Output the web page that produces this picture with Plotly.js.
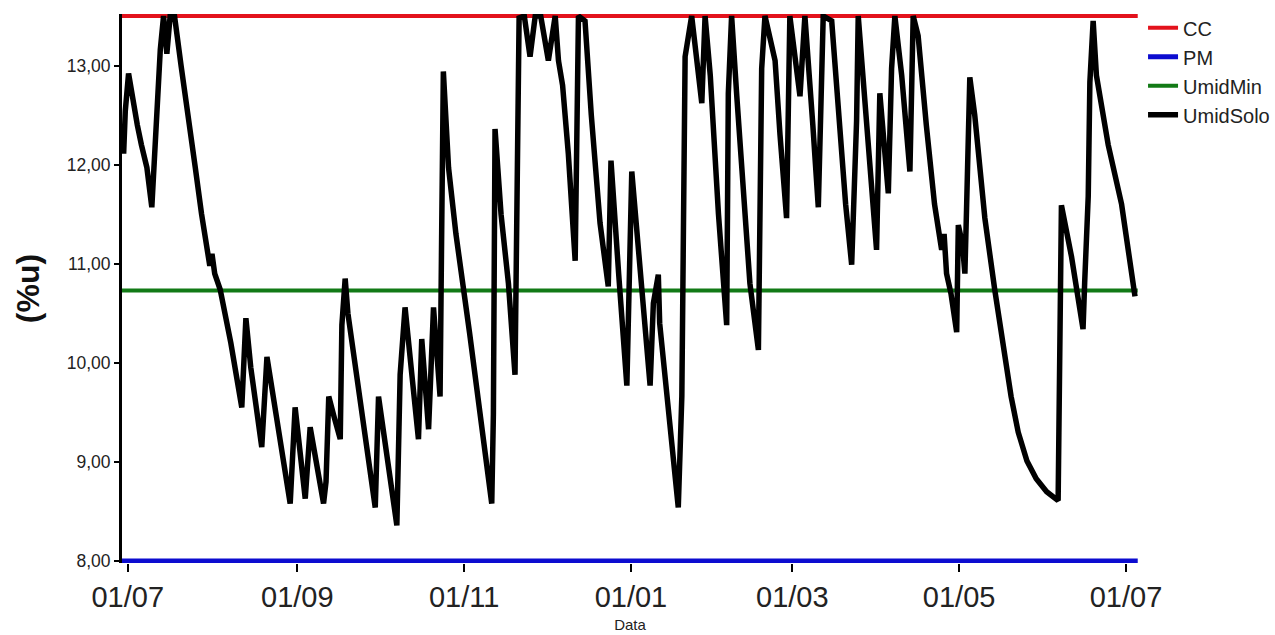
<!DOCTYPE html>
<html>
<head>
<meta charset="utf-8">
<script src="https://cdn.plot.ly/plotly-3.0.1.min.js"></script>
<style>
  html, body { margin: 0; padding: 0; background: #ffffff; }
  #chart { width: 1275px; height: 635px; }
</style>
</head>
<body>
<div id="chart"></div>
<script>
// ---- data ----
const seriesNames = ['CC', 'PM', 'UmidMin', 'UmidSolo'];
const startDay = '2010-07-01';            // day 0 of the series
const limitDays = [-2.1, 369.3];          // extent of the horizontal reference lines
const ccValue = 13.5;
const pmValue = 8.0;
const umidMinValue = 10.73;

// UmidSolo turning points: day offset from startDay and soil moisture (%u)
const soloDays = [
  -1.5, -0.9, 0.3, 1.5, 3.5, 5.0, 7.0, 8.8, 10.7, 11.9, 13.1, 14.3, 15.5, 17.1, 19.5, 21.6,
  24.7, 27.0, 28.9, 30.0, 30.8, 31.8, 33.8, 37.7, 41.7, 43.2, 45.0, 49.0, 50.9, 53.9, 57.6,
  59.4, 61.2, 64.9, 66.7, 71.6, 72.5, 73.5, 75.5, 77.7, 78.3, 79.5, 80.5, 85.0, 90.5, 91.7,
  95.0, 98.4, 99.6, 101.4, 104.0, 106.3, 107.5, 110.0, 111.8, 114.2, 114.8, 115.4, 117.3,
  120.0, 125.0, 129.0, 133.1, 133.7, 134.3, 136.5, 139.2, 141.6, 142.2, 143.1, 145.0, 147.1,
  149.0, 151.0, 153.8, 156.3, 157.5, 159.0, 161.1, 163.6, 164.8, 167.2, 169.5, 172.7, 175.7,
  176.7, 179.5, 182.5, 184.3, 187.0, 191.0, 192.2, 194.0, 194.5, 197.5, 201.3, 202.6, 203.1,
  203.8, 206.2, 209.9, 211.1, 213.0, 216.0, 219.0, 219.6, 220.8, 222.7, 225.3, 227.5, 230.6,
  231.2, 231.8, 233.0, 236.7, 238.5, 240.9, 242.1, 243.5, 245.8, 247.6, 248.5, 250.5, 252.5,
  254.3, 257.4, 260.0, 262.5, 264.7, 266.5, 267.1, 268.5, 271.0, 273.8, 275.0, 276.5, 278.1,
  279.3, 280.5, 283.0, 286.0, 287.2, 289.0, 292.0, 295.0, 297.6, 298.5, 299.4, 301.0, 303.1,
  303.7, 305.2, 306.1, 306.7, 307.3, 307.9, 309.7, 313.4, 317.0, 320.7, 323.0, 325.6, 328.8,
  332.2, 336.0, 340.2, 340.8, 341.4, 345.1, 349.3, 349.9, 351.2, 351.8, 353.0, 354.2, 358.5,
  363.4, 368.3
];
const soloValues = [
  12.11, 12.54, 12.92, 12.70, 12.40, 12.20, 11.97, 11.57, 12.54, 13.16, 13.50, 13.12, 13.50, 13.50, 13.00, 12.54,
  11.97, 11.50, 11.14, 10.98, 11.10, 10.90, 10.74, 10.20, 9.55, 10.45, 9.95, 9.15, 10.06, 9.55, 8.97,
  8.58, 9.55, 8.63, 9.35, 8.58, 8.80, 9.66, 9.45, 9.23, 10.38, 10.85, 10.50, 9.60, 8.54, 9.66,
  9.00, 8.36, 9.88, 10.56, 9.85, 9.23, 10.24, 9.33, 10.56, 9.66, 11.34, 12.94, 11.97,
  11.30, 10.30, 9.40, 8.58, 9.48, 12.36, 11.50, 10.80, 9.88, 11.71, 13.48, 13.50, 13.09,
  13.50, 13.50, 13.05, 13.50, 13.05, 12.80, 12.11, 11.03, 13.50, 13.45, 12.50, 11.41, 10.77,
  12.04, 10.90, 9.77, 11.93, 11.00, 9.77, 10.60, 10.89, 10.40, 9.60, 8.54, 9.66, 11.93,
  13.09, 13.50, 12.62, 13.50, 12.90, 11.50, 10.38, 12.72, 13.50, 12.69, 11.60, 10.80, 10.13,
  11.57, 12.97, 13.50, 13.05, 12.30, 11.46, 13.50, 13.20, 12.69, 13.50, 13.20, 12.40, 11.57,
  13.50, 13.45, 12.50, 11.60, 10.99, 12.44, 13.50, 13.00, 12.10, 11.14, 12.72, 12.20, 11.71,
  12.97, 13.50, 12.90, 11.93, 13.50, 13.30, 12.40, 11.60, 11.14, 11.30, 10.90, 10.70, 10.31,
  11.39, 11.20, 10.90, 11.54, 12.51, 12.88, 12.50, 11.46, 10.74, 10.02, 9.66, 9.30, 9.01,
  8.83, 8.70, 8.61, 10.09, 11.59, 11.07, 10.34, 10.81, 11.68, 12.83, 13.45, 12.90, 12.20,
  11.60, 10.67
];

const xTickDates = ['2010-07-01', '2010-09-01', '2010-11-01', '2011-01-01', '2011-03-01', '2011-05-01', '2011-07-01'];
const xTickLabels = ['01/07', '01/09', '01/11', '01/01', '01/03', '01/05', '01/07'];
const yTickValues = [8, 9, 10, 11, 12, 13];

// ---- helpers ----
const t0 = Date.parse(startDay + 'T00:00:00Z');
function dayToDate(d) {
  return new Date(t0 + d * 86400000).toISOString().slice(0, 19).replace('T', ' ');
}
const soloDates = soloDays.map(dayToDate);
const limitDates = limitDays.map(dayToDate);

const colors = { CC: '#e3121c', PM: '#0c0cd0', UmidMin: '#127a16', UmidSolo: '#000000' };

const traces = [
  { name: seriesNames[0], x: limitDates, y: [ccValue, ccValue], mode: 'lines',
    line: { color: colors.CC, width: 4 } },
  { name: seriesNames[1], x: limitDates, y: [pmValue, pmValue], mode: 'lines',
    line: { color: colors.PM, width: 5 } },
  { name: seriesNames[2], x: limitDates, y: [umidMinValue, umidMinValue], mode: 'lines',
    line: { color: colors.UmidMin, width: 4 } },
  { name: seriesNames[3], x: soloDates, y: soloValues, mode: 'lines',
    line: { color: colors.UmidSolo, width: 5.5, shape: 'linear' } }
];

const layout = {
  width: 1275,
  height: 635,
  paper_bgcolor: '#ffffff',
  plot_bgcolor: '#ffffff',
  separators: ',.',
  margin: { l: 122, r: 137, t: 14, b: 72, pad: 0, autoexpand: false },
  showlegend: true,
  legend: {
    xref: 'container', yref: 'container',
    x: 0.8965, y: 0.987, xanchor: 'left', yanchor: 'top',
    font: { family: 'Liberation Sans, Arial, sans-serif', size: 20, color: '#222222' },
    bgcolor: 'rgba(0,0,0,0)', borderwidth: 0, itemwidth: 30, tracegroupgap: 0
  },
  xaxis: {
    type: 'date',
    range: [dayToDate(-2.1), dayToDate(369.4)],
    tickmode: 'array',
    tickvals: xTickDates,
    ticktext: xTickLabels,
    ticks: 'outside', ticklen: 8, tickwidth: 2, tickcolor: '#000000',
    showline: false, showgrid: false, zeroline: false,
    tickfont: { family: 'Liberation Sans, Arial, sans-serif', size: 29, color: '#222222' },
    title: { text: 'Data', font: { family: 'Liberation Sans, Arial, sans-serif', size: 15, color: '#222222' }, standoff: 7 }
  },
  yaxis: {
    range: [7.98, 13.52],
    tickmode: 'array',
    tickvals: yTickValues,
    tickformat: '.2f',
    ticks: 'outside', ticklen: 5, tickwidth: 2, tickcolor: '#000000',
    showline: true, linewidth: 3, linecolor: '#000000',
    showgrid: false, zeroline: false,
    tickfont: { family: 'Liberation Sans, Arial, sans-serif', size: 17.5, color: '#222222' },
    title: { text: '(%u)', font: { family: 'Liberation Sans, Arial, sans-serif', size: 32, color: '#111111', weight: 'bold' }, standoff: 18 }
  }
};

Plotly.newPlot('chart', traces, layout, { staticPlot: true, displayModeBar: false });
</script>
</body>
</html>
